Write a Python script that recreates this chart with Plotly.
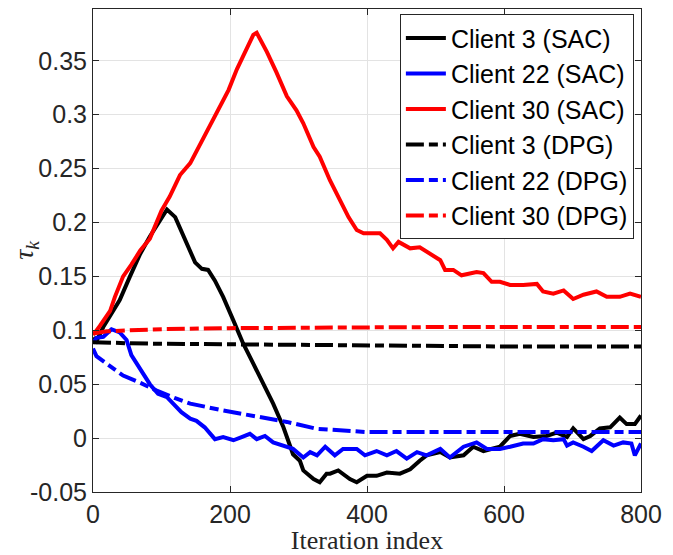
import plotly.graph_objects as go

# ---------------- data ----------------
c3_sac_x = [0, 5, 15, 30, 39, 54, 69, 83, 98, 108,
            120, 132, 142, 149, 159, 168, 178, 190, 205, 219,
            234, 249, 263, 278, 292, 302, 307, 322, 331, 341,
            346, 358, 375, 385, 400, 414, 429, 448, 463, 477,
            487, 507, 521, 541, 555, 570, 594, 609, 623, 643,
            662, 677, 692, 701, 716, 726, 740, 755, 769, 779,
            791, 800]
c3_sac_y = [0.093, 0.090, 0.103, 0.119, 0.128, 0.150, 0.171, 0.187, 0.202, 0.212,
            0.205, 0.187, 0.174, 0.163, 0.157, 0.156, 0.146, 0.131, 0.109, 0.088,
            0.069, 0.050, 0.032, 0.010, -0.015, -0.021, -0.030, -0.038, -0.041, -0.033,
            -0.033, -0.030, -0.038, -0.041, -0.035, -0.035, -0.032, -0.033, -0.029, -0.021,
            -0.016, -0.013, -0.018, -0.016, -0.008, -0.012, -0.008, 0.002, 0.004, 0.001,
            0.002, 0.005, 0.001, 0.009, -0.001, 0.002, 0.009, 0.010, 0.019, 0.013,
            0.013, 0.021]

c22_sac_x = [0, 5, 15, 27, 39, 49, 56, 64, 73, 83,
             95, 108, 117, 129, 142, 151, 163, 178, 190, 205,
             217, 229, 239, 251, 263, 278, 292, 307, 317, 327,
             339, 353, 365, 385, 397, 414, 429, 443, 458, 473,
             487, 507, 521, 541, 560, 575, 594, 609, 628, 643,
             657, 672, 687, 692, 701, 716, 728, 745, 760, 774,
             786, 791, 800]
c22_sac_y = [0.088, 0.093, 0.094, 0.101, 0.098, 0.091, 0.077, 0.069, 0.060, 0.050,
             0.041, 0.038, 0.032, 0.024, 0.018, 0.016, 0.010, -0.001, 0.001, -0.002,
             0.001, 0.004, -0.001, 0.002, -0.004, -0.007, -0.010, -0.018, -0.013, -0.016,
             -0.008, -0.016, -0.010, -0.010, -0.016, -0.012, -0.016, -0.012, -0.019, -0.013,
             -0.016, -0.010, -0.018, -0.008, -0.004, -0.010, -0.010, -0.008, -0.005, -0.005,
             -0.001, -0.002, -0.001, -0.007, -0.004, -0.008, -0.012, -0.002, -0.007, -0.004,
             -0.005, -0.016, -0.005]

c30_sac_x = [0, 3, 10, 17, 25, 32, 44, 56, 69, 83,
             100, 112, 127, 142, 156, 168, 183, 198, 210, 222,
             234, 239, 246, 254, 268, 283, 297, 307, 322, 331,
             346, 361, 373, 385, 395, 404, 419, 429, 438, 446,
             463, 477, 487, 497, 507, 514, 526, 538, 560, 570,
             582, 594, 609, 628, 648, 657, 672, 687, 701, 716,
             735, 750, 769, 784, 800]
c30_sac_y = [0.096, 0.098, 0.104, 0.111, 0.118, 0.131, 0.150, 0.161, 0.174, 0.185,
             0.211, 0.224, 0.244, 0.255, 0.272, 0.286, 0.306, 0.323, 0.342, 0.357,
             0.374, 0.376, 0.368, 0.358, 0.339, 0.317, 0.304, 0.292, 0.270, 0.261,
             0.239, 0.221, 0.205, 0.193, 0.190, 0.190, 0.190, 0.184, 0.176, 0.182,
             0.176, 0.177, 0.173, 0.170, 0.165, 0.156, 0.156, 0.151, 0.154, 0.153,
             0.145, 0.145, 0.142, 0.142, 0.143, 0.136, 0.134, 0.137, 0.129, 0.133,
             0.136, 0.131, 0.131, 0.134, 0.131]

dpg_x = [0, 20, 50, 100, 200, 300, 400, 500, 600, 700, 800]
c3_dpg_y = [0.089, 0.0885, 0.088, 0.0875, 0.087, 0.0865, 0.0855, 0.085, 0.085, 0.085, 0.085]
c30_dpg_y = [0.097, 0.099, 0.100, 0.101, 0.102, 0.1025, 0.103, 0.103, 0.103, 0.103, 0.103]

c22_dpg_x = [0, 5, 20, 44, 70, 93, 120, 142, 190, 239, 283, 327, 375, 400, 500, 600, 700, 800]
c22_dpg_y = [0.083, 0.076, 0.069, 0.058, 0.051, 0.044, 0.037, 0.032, 0.0256, 0.020,
             0.015, 0.0086, 0.0061, 0.0056, 0.0056, 0.0056, 0.0056, 0.0056]

x_ticks = [0, 200, 400, 600, 800]
y_ticks = [-0.05, 0, 0.05, 0.1, 0.15, 0.2, 0.25, 0.3, 0.35]
y_tick_labels = ["-0.05", "0", "0.05", "0.1", "0.15", "0.2", "0.25", "0.3", "0.35"]

# ---------------- figure ----------------
LW = 4
DASH = "18px,5px,9px,5px"
fig = go.Figure()
series = [
    ("Client 3 (SAC)", c3_sac_x, c3_sac_y, "#000000", "solid"),
    ("Client 22 (SAC)", c22_sac_x, c22_sac_y, "#0000ff", "solid"),
    ("Client 30 (SAC)", c30_sac_x, c30_sac_y, "#ff0000", "solid"),
    ("Client 3 (DPG)", dpg_x, c3_dpg_y, "#000000", DASH),
    ("Client 22 (DPG)", c22_dpg_x, c22_dpg_y, "#0000ff", DASH),
    ("Client 30 (DPG)", dpg_x, c30_dpg_y, "#ff0000", DASH),
]
for name, xs, ys, col, dash in series:
    fig.add_trace(go.Scatter(x=xs, y=ys, mode="lines", name=name,
                             line=dict(color=col, width=LW, dash=dash)))

axis_common = dict(
    showline=True, linecolor="#262626", linewidth=1, mirror="ticks",
    ticks="inside", ticklen=6, tickcolor="#262626", tickwidth=1,
    showgrid=True, gridcolor="#e3e3e3", gridwidth=1, zeroline=False,
    tickfont=dict(family="Liberation Sans, Arial", size=25, color="#262626"),
    automargin=False,
)
fig.update_xaxes(range=[0, 800], tickvals=x_ticks, ticktext=[str(v) for v in x_ticks],
                 title=dict(text="Iteration index", standoff=6,
                            font=dict(family="Liberation Serif, Times New Roman", size=26, color="#262626")),
                 **axis_common)
fig.update_yaxes(range=[-0.05, 0.398], tickvals=y_ticks, ticktext=y_tick_labels,
                 title=dict(text="<i>τ</i><sub><i>k</i></sub>", standoff=6,
                            font=dict(family="Liberation Serif, Times New Roman", size=28, color="#262626")),
                 **axis_common)

# page body has an 8px margin, so the figure is sized/offset to compensate
fig.update_layout(
    width=665, height=547,
    margin=dict(l=85, r=32, t=1, b=63),
    plot_bgcolor="white", paper_bgcolor="white",
    legend=dict(x=0.56, y=0.989, xanchor="left", yanchor="top",
                bgcolor="white", bordercolor="#262626", borderwidth=1,
                font=dict(family="Liberation Sans, Arial", size=25, color="#000000"),
                itemwidth=40, tracegroupgap=0),
    showlegend=True,
)

fig.write_html("out.html")
